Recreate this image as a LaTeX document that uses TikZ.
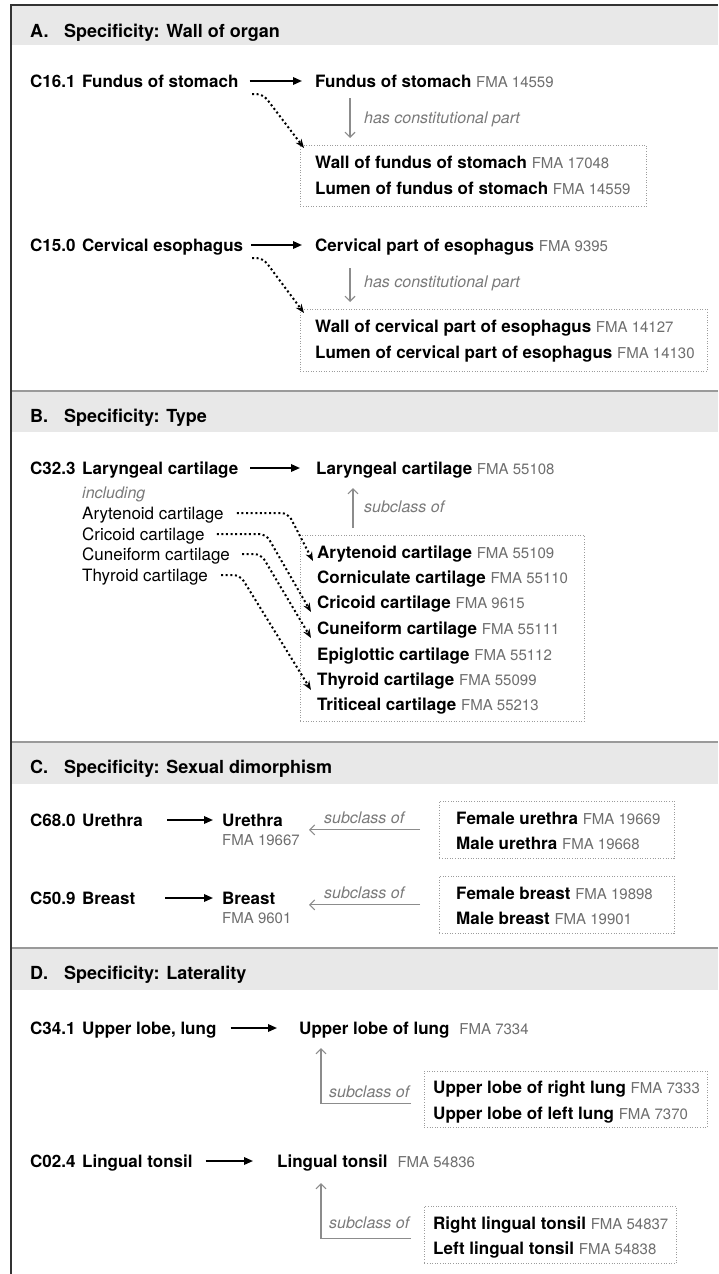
\documentclass[tikz,border=0pt]{standalone}
\usepackage{fontspec}
\setmainfont{TeX Gyre Heros}
\usetikzlibrary{arrows.meta}
\definecolor{hdrgray}{HTML}{E8E8E8}
\definecolor{sepgray}{HTML}{9A9A9A}
\definecolor{framec}{HTML}{333333}
\definecolor{fmagray}{HTML}{6E6E6E}
\definecolor{relgray}{HTML}{7A7A7A}
\definecolor{arrgray}{HTML}{8C8C8C}
\definecolor{boxgray}{HTML}{9C9C9C}
\newcommand\fmaid[1]{{\fontsize{15}{18}\selectfont\mdseries\color{fmagray}#1}}
\newcommand\cde[1]{\makebox[52pt][l]{#1}}
\begin{document}
\begin{tikzpicture}[x=1pt,y=-1pt,
  txt/.style={anchor=west, inner sep=0pt, text height=14pt, text depth=2pt, font=\fontsize{17}{20}\selectfont},
  btxt/.style={txt, font=\fontsize{17}{20}\selectfont\bfseries},
  ftxt/.style={anchor=west, inner sep=0pt, text height=12.8pt, text depth=2pt, font=\fontsize{15}{18}\selectfont, text=fmagray},
  rel/.style={anchor=west, inner sep=0pt, text height=13.5pt, text depth=2pt, font=\fontsize{16}{19}\selectfont\itshape, text=relgray},
  ttl/.style={anchor=west, inner sep=0pt, text height=15pt, text depth=2pt, font=\fontsize{18}{21}\selectfont\bfseries},
  dbox/.style={draw=boxgray, line width=0.8pt, dash pattern=on 1pt off 1.6pt, anchor=north west, inner sep=0pt},
  blk/.style={line width=1.8pt, -{Triangle[length=9pt,width=7.5pt]}},
  dotarr/.style={line width=2pt, dash pattern=on 2pt off 2.6pt, -{Stealth[length=9pt,width=7pt]}, rounded corners=7pt},
  garr/.style={draw=arrgray, line width=1.1pt, -{Straight Barb[length=5pt,width=10pt]}},
]
\useasboundingbox (0,0) rectangle (718,1274);
\fill[white] (0,0) rectangle (718,1274);
% section bands
\fill[hdrgray] (12,6) rectangle (718,45);
\fill[hdrgray] (12,391) rectangle (718,432);
\fill[hdrgray] (12,742) rectangle (718,784);
\fill[hdrgray] (12,948) rectangle (718,990);
\draw[sepgray, line width=1.2pt] (12,391) -- (718,391);
\draw[sepgray, line width=1.2pt] (12,742) -- (718,742);
\draw[sepgray, line width=1.2pt] (12,948) -- (718,948);
\draw[framec, line width=2pt] (11,1276) -- (11,5) -- (718,5);
% titles
\node[ttl] (ta) at (30,31) {\makebox[34pt][l]{A.}Specificity: Wall of organ};
\node[ttl] (tb) at (30,416) {\makebox[34pt][l]{B.}Specificity: Type};
\node[ttl] (tc) at (30,767) {\makebox[34pt][l]{C.}Specificity: Sexual dimorphism};
\node[ttl] (td) at (30,973) {\makebox[34pt][l]{D.}Specificity: Laterality};

% ===== Section A =====
\node[btxt] (a1c) at (30,81) {\cde{C16.1}Fundus of stomach};
\node[btxt] (a1t) at (315,81) {Fundus of stomach \fmaid{FMA 14559}};
\node[dbox, minimum width=346pt, minimum height=61pt] (a1box) at (300,145) {};
\node[btxt] (a1w) at (315,162) {Wall of fundus of stomach \fmaid{FMA 17048}};
\node[btxt] (a1l) at (315,188) {Lumen of fundus of stomach \fmaid{FMA 14559}};
\node[rel] (a1r) at (364,118) {has constitutional part};
\draw[blk] ([xshift=11pt]a1c.east) -- ([xshift=-13pt]a1t.west);
\draw[garr] ([shift={(35pt,-17pt)}]a1t.west) -- ([shift={(50pt,7pt)}]a1box.north west);
\draw[dotarr] ([shift={(-63pt,-13pt)}]a1t.west) -- ++(11,0) -- ([shift={(4pt,-3pt)}]a1box.north west);

\node[btxt] (a2c) at (30,245) {\cde{C15.0}Cervical esophagus};
\node[btxt] (a2t) at (315,245) {Cervical part of esophagus \fmaid{FMA 9395}};
\node[dbox, minimum width=407pt, minimum height=62pt] (a2box) at (300,309) {};
\node[btxt] (a2w) at (315,326) {Wall of cervical part of esophagus \fmaid{FMA 14127}};
\node[btxt] (a2l) at (315,352) {Lumen of cervical part of esophagus \fmaid{FMA 14130}};
\node[rel] (a2r) at (364,282) {has constitutional part};
\draw[blk] ([xshift=8pt]a2c.east) -- ([xshift=-13pt]a2t.west);
\draw[garr] ([shift={(35pt,-23pt)}]a2t.west) -- ([shift={(50pt,7pt)}]a2box.north west);
\draw[dotarr] ([shift={(-63pt,-13pt)}]a2t.west) -- ++(11,0) -- ([shift={(4pt,-4pt)}]a2box.north west);

% ===== Section B =====
\node[btxt] (b1c) at (30,468) {\cde{C32.3}Laryngeal cartilage};
\node[btxt] (b1t) at (316,468) {Laryngeal cartilage \fmaid{FMA 55108}};
\draw[blk] ([xshift=12pt]b1c.east) -- ([xshift=-16pt]b1t.west);
\node[rel] (binc) at (82,493) {including};
\node[txt] (saryt) at (82,513) {Arytenoid cartilage};
\node[txt] (scric) at (82,534) {Cricoid cartilage};
\node[txt] (scune) at (82,554) {Cuneiform cartilage};
\node[txt] (sthyr) at (82,575) {Thyroid cartilage};
\node[dbox, minimum width=284pt, minimum height=186pt] (bbox) at (300,535) {};
\node[btxt] (baryt) at (317,552) {Arytenoid cartilage \fmaid{FMA 55109}};
\node[btxt] (bcorn) at (317,577) {Corniculate cartilage \fmaid{FMA 55110}};
\node[btxt] (bcric) at (317,602) {Cricoid cartilage \fmaid{FMA 9615}};
\node[btxt] (bcune) at (317,628) {Cuneiform cartilage \fmaid{FMA 55111}};
\node[btxt] (bepig) at (317,654) {Epiglottic cartilage \fmaid{FMA 55112}};
\node[btxt] (bthyr) at (317,679) {Thyroid cartilage \fmaid{FMA 55099}};
\node[btxt] (btrit) at (317,704) {Triticeal cartilage \fmaid{FMA 55213}};
\node[rel] (br) at (364,507) {subclass of};
\draw[garr] ([shift={(53pt,7pt)}]bbox.north west) -- ([shift={(37pt,-20pt)}]b1t.west);
\draw[dotarr] ([xshift=13pt]saryt.east) -- ([xshift=206pt]saryt.west) -- ([shift={(-4pt,-9pt)}]baryt.west);
\draw[dotarr] ([xshift=12pt]scric.east) -- ([xshift=184pt]scric.west) -- ([shift={(-6pt,-10pt)}]bcric.west);
\draw[dotarr] ([xshift=12pt]scune.east) -- ([xshift=179pt]scune.west) -- ([shift={(-6pt,-10pt)}]bcune.west);
\draw[dotarr] ([xshift=13pt]sthyr.east) -- ([xshift=158pt]sthyr.west) -- ([shift={(-6pt,-11pt)}]bthyr.west);

% ===== Section C =====
\node[btxt] (c1c) at (30,820) {\cde{C68.0}Urethra};
\node[btxt] (c1t) at (222,820) {Urethra};
\node[ftxt] (c1f) at (222,840) {FMA 19667};
\draw[blk] ([xshift=24pt]c1c.east) -- ([xshift=-9pt]c1t.west);
\node[dbox, minimum width=235pt, minimum height=57pt] (c1box) at (439,801) {};
\node[btxt] (c1a) at (456,818) {Female urethra \fmaid{FMA 19669}};
\node[btxt] (c1b) at (456,843) {Male urethra \fmaid{FMA 19668}};
\node[rel] (c1r) at (324,818) {subclass of};
\draw[garr] ([xshift=-19pt]c1box.west) -- ++(-111,0);

\node[btxt] (c2c) at (30,898) {\cde{C50.9}Breast};
\node[btxt] (c2t) at (222,898) {Breast};
\node[ftxt] (c2f) at (222,918) {FMA 9601};
\draw[blk] ([xshift=30pt]c2c.east) -- ([xshift=-9pt]c2t.west);
\node[dbox, minimum width=235pt, minimum height=57pt] (c2box) at (439,876) {};
\node[btxt] (c2a) at (456,893) {Female breast \fmaid{FMA 19898}};
\node[btxt] (c2b) at (456,918) {Male breast \fmaid{FMA 19901}};
\node[rel] (c2r) at (324,893) {subclass of};
\draw[garr] ([xshift=-19pt]c2box.west) -- ++(-111,0);

% ===== Section D =====
\node[btxt] (d1c) at (30,1028) {\cde{C34.1}Upper lobe, lung};
\node[btxt] (d1t) at (299,1028) {Upper lobe of lung\hspace{10pt}\fmaid{FMA 7334}};
\draw[blk] ([xshift=14pt]d1c.east) -- ([xshift=-22pt]d1t.west);
\node[dbox, minimum width=283pt, minimum height=56pt] (d1box) at (424,1071) {};
\node[btxt] (d1a) at (433,1087) {Upper lobe of right lung \fmaid{FMA 7333}};
\node[btxt] (d1b) at (433,1113) {Upper lobe of left lung \fmaid{FMA 7370}};
\node[rel] (d1r) at (329,1092) {subclass of};
\draw[garr] ([xshift=-13pt,yshift=-4pt]d1box.west) -| ([shift={(22pt,-20pt)}]d1t.west);

\node[btxt] (d2c) at (30,1161) {\cde{C02.4}Lingual tonsil};
\node[btxt] (d2t) at (277,1161) {Lingual tonsil\hspace{10pt}\fmaid{FMA 54836}};
\draw[blk] ([xshift=13pt]d2c.east) -- ([xshift=-24pt]d2t.west);
\node[dbox, minimum width=252pt, minimum height=57pt] (d2box) at (424,1206) {};
\node[btxt] (d2a) at (433,1223) {Right lingual tonsil \fmaid{FMA 54837}};
\node[btxt] (d2b) at (433,1248) {Left lingual tonsil \fmaid{FMA 54838}};
\node[rel] (d2r) at (329,1223) {subclass of};
\draw[garr] ([xshift=-13pt,yshift=-3.5pt]d2box.west) -| ([shift={(44pt,-22pt)}]d2t.west);
\end{tikzpicture}
\end{document}
